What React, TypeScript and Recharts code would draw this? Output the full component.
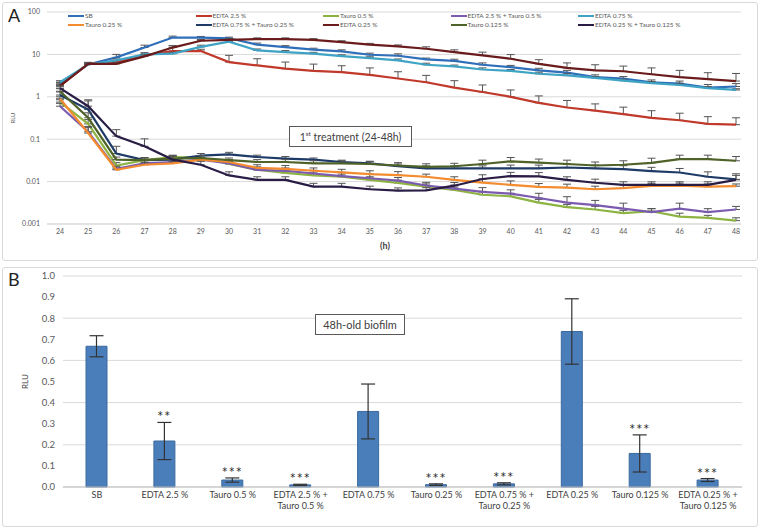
import {
  LineChart,
  Line,
  XAxis,
  YAxis,
  CartesianGrid,
  ErrorBar,
  ComposedChart,
  Bar,
  LabelList,
} from 'recharts';

const FONT = "Lato, 'Open Sans', sans-serif";

// Panel A: kinetics 24-48h (log RLU)
const hours = [24, 25, 26, 27, 28, 29, 30, 31, 32, 33, 34, 35, 36, 37, 38, 39, 40, 41, 42, 43, 44, 45, 46, 47, 48];

const sb = [2.0, 5.8, 8.5, 14.5, 25, 25, 24, 17, 14.8, 13, 11.8, 9.8, 9.3, 7.6, 7.0, 5.7, 5.0, 4.2, 3.7, 2.9, 2.7, 2.2, 2.05, 1.65, 1.75];
const sbErr = [0.2, 0.5, 1.5, 2, 2, 1.5, 1.5, 1.5, 1.3, 1.0, 1.0, 0.9, 1.0, 0.6, 0.7, 0.6, 0.5, 0.5, 0.5, 0.4, 0.3, 0.3, 0.3, 0.3, 0.3];
const edta25 = [1.8, 6.0, 6.6, 9.5, 12, 12, 6.6, 5.5, 4.6, 4.1, 3.8, 3.3, 2.7, 2.2, 1.65, 1.3, 1.0, 0.72, 0.56, 0.47, 0.39, 0.32, 0.28, 0.23, 0.22];
const edta25Err = [0.1, 0.3, 0.5, 0.8, 4, 1.2, 2.9, 2.4, 2.0, 1.8, 1.6, 1.5, 1.2, 1.0, 0.75, 0.6, 0.45, 0.33, 0.26, 0.21, 0.18, 0.15, 0.13, 0.11, 0.1];
const tauro05 = [0.75, 0.23, 0.024, 0.032, 0.038, 0.037, 0.026, 0.019, 0.016, 0.014, 0.013, 0.011, 0.0093, 0.0076, 0.0064, 0.0049, 0.0045, 0.0032, 0.0025, 0.0022, 0.0018, 0.002, 0.0015, 0.0014, 0.0012];
const tauro05Err = [0.1, 0.06, 0.004, 0.004, 0.004, 0.004, 0.003, 0.003, 0.003, 0.002, 0.002, 0.002, 0.0015, 0.0012, 0.001, 0.001, 0.0008, 0.0006, 0.0004, 0.0004, 0.0003, 0.0003, 0.0003, 0.0002, 0.0002];
const edta25Tauro05 = [0.6, 0.15, 0.02, 0.027, 0.029, 0.033, 0.027, 0.019, 0.018, 0.0155, 0.0135, 0.012, 0.0105, 0.0081, 0.0068, 0.0057, 0.0052, 0.0041, 0.0032, 0.0028, 0.0023, 0.0019, 0.0023, 0.0019, 0.0022];
const edta25Tauro05Err = [0.1, 0.05, 0.003, 0.004, 0.004, 0.004, 0.004, 0.003, 0.003, 0.003, 0.003, 0.003, 0.002, 0.0015, 0.0015, 0.0015, 0.0012, 0.0012, 0.0012, 0.0008, 0.0008, 0.0004, 0.0008, 0.0004, 0.0004];
const edta075 = [2.2, 5.8, 7.2, 10, 10.4, 15, 20, 12.4, 11.3, 10.4, 9.1, 8.2, 7.2, 5.7, 5.2, 4.4, 4.1, 3.5, 3.2, 2.8, 2.4, 2.1, 1.9, 1.6, 1.45];
const edta075Err = [0.2, 0.4, 0.6, 1, 0.8, 1.5, 2, 1, 1, 0.8, 0.7, 0.6, 0.6, 0.5, 0.4, 0.4, 0.3, 0.3, 0.3, 0.2, 0.2, 0.2, 0.2, 0.15, 0.1];
const tauro025 = [0.9, 0.14, 0.019, 0.025, 0.027, 0.033, 0.029, 0.021, 0.02, 0.018, 0.0165, 0.015, 0.0142, 0.013, 0.011, 0.0095, 0.0084, 0.0075, 0.0072, 0.0066, 0.007, 0.0079, 0.008, 0.0076, 0.0078];
const tauro025Err = [0.1, 0.05, 0.003, 0.003, 0.003, 0.004, 0.004, 0.004, 0.004, 0.003, 0.003, 0.003, 0.003, 0.002, 0.002, 0.002, 0.002, 0.0015, 0.0015, 0.0012, 0.0015, 0.0012, 0.0012, 0.0012, 0.001];
const edta075Tauro025 = [1.1, 0.5, 0.046, 0.032, 0.033, 0.041, 0.044, 0.038, 0.035, 0.033, 0.029, 0.027, 0.023, 0.0205, 0.0205, 0.0205, 0.0205, 0.0205, 0.0215, 0.0205, 0.0197, 0.0177, 0.0164, 0.013, 0.0113];
const edta075Tauro025Err = [0.2, 0.3, 0.022, 0.005, 0.006, 0.005, 0.005, 0.004, 0.004, 0.003, 0.003, 0.003, 0.003, 0.003, 0.003, 0.003, 0.004, 0.004, 0.004, 0.004, 0.004, 0.004, 0.004, 0.004, 0.004];
const edta025 = [1.8, 6.0, 6.0, 9.0, 14.5, 21, 22, 23, 23, 22, 19.5, 17, 15.5, 13.6, 11.3, 9.5, 7.9, 6.0, 4.8, 4.2, 4.0, 3.4, 2.9, 2.6, 2.35];
const edta025Err = [0.2, 0.5, 0.5, 0.8, 1.5, 1.5, 1.5, 1.5, 1.5, 1.5, 1.5, 1.2, 1.2, 1.5, 1.5, 1.8, 2.0, 1.5, 1.5, 1.5, 1.3, 1.4, 1.3, 1.1, 1.2];
const tauro0125 = [1.35, 0.32, 0.033, 0.032, 0.035, 0.036, 0.032, 0.029, 0.029, 0.027, 0.027, 0.026, 0.024, 0.0223, 0.023, 0.026, 0.03, 0.028, 0.026, 0.024, 0.025, 0.0276, 0.034, 0.034, 0.031];
const tauro0125Err = [0.2, 0.1, 0.005, 0.004, 0.005, 0.005, 0.004, 0.004, 0.004, 0.004, 0.004, 0.004, 0.004, 0.004, 0.004, 0.006, 0.007, 0.006, 0.006, 0.005, 0.006, 0.008, 0.008, 0.008, 0.008];
const edta025Tauro0125 = [1.6, 0.6, 0.118, 0.068, 0.033, 0.025, 0.014, 0.011, 0.011, 0.0076, 0.0076, 0.0066, 0.0061, 0.0062, 0.008, 0.0115, 0.0135, 0.0133, 0.011, 0.0094, 0.0084, 0.0084, 0.0084, 0.0084, 0.011];
const edta025Tauro0125Err = [0.2, 0.25, 0.05, 0.034, 0.008, 0.005, 0.003, 0.002, 0.002, 0.0015, 0.0015, 0.0012, 0.001, 0.001, 0.0015, 0.003, 0.003, 0.003, 0.002, 0.002, 0.0015, 0.0015, 0.0015, 0.0015, 0.003];

const logTicks = [0.001, 0.01, 0.1, 1, 10, 100];

const series = [
  { key: 'sb', name: 'SB', values: sb, errors: sbErr, color: '#2F6EB8' },
  { key: 'edta25', name: 'EDTA 2.5 %', values: edta25, errors: edta25Err, color: '#C0392B' },
  { key: 'tauro05', name: 'Tauro 0.5 %', values: tauro05, errors: tauro05Err, color: '#8DB443' },
  { key: 'edta25Tauro05', name: 'EDTA 2.5 % + Tauro 0.5 %', values: edta25Tauro05, errors: edta25Tauro05Err, color: '#7B5BAF' },
  { key: 'edta075', name: 'EDTA 0.75 %', values: edta075, errors: edta075Err, color: '#3EA3C4' },
  { key: 'tauro025', name: 'Tauro 0.25 %', values: tauro025, errors: tauro025Err, color: '#F48B2E' },
  { key: 'edta075Tauro025', name: 'EDTA 0.75 % + Tauro 0.25 %', values: edta075Tauro025, errors: edta075Tauro025Err, color: '#1E3A66' },
  { key: 'edta025', name: 'EDTA 0.25 %', values: edta025, errors: edta025Err, color: '#6A1B1B' },
  { key: 'tauro0125', name: 'Tauro 0.125 %', values: tauro0125, errors: tauro0125Err, color: '#4F6228' },
  { key: 'edta025Tauro0125', name: 'EDTA 0.25 % + Tauro 0.125 %', values: edta025Tauro0125, errors: edta025Tauro0125Err, color: '#2A1D45' },
];

const timeData = hours.map((h, i) => {
  const row: Record<string, any> = { h };
  series.forEach((s) => {
    row[s.key] = s.values[i];
    row[s.key + 'Err'] = [0, s.errors[i]];
  });
  return row;
});

// Panel B: 48h-old biofilm
const groups = [
  'SB',
  'EDTA 2.5 %',
  'Tauro 0.5 %',
  'EDTA 2.5 % +|Tauro 0.5 %',
  'EDTA 0.75 %',
  'Tauro 0.25 %',
  'EDTA 0.75 % +|Tauro 0.25 %',
  'EDTA 0.25 %',
  'Tauro 0.125 %',
  'EDTA 0.25 % +|Tauro 0.125 %',
];
const rlu = [0.667, 0.218, 0.033, 0.01, 0.358, 0.011, 0.015, 0.737, 0.159, 0.033];
const rluErr = [0.05, 0.088, 0.01, 0.003, 0.13, 0.004, 0.005, 0.155, 0.088, 0.007];
const stars = [undefined, '**', '***', '***', undefined, '***', '***', undefined, '***', '***'];
const linearTicks = [0, 0.1, 0.2, 0.3, 0.4, 0.5, 0.6, 0.7, 0.8, 0.9, 1.0];

const barData = groups.map((g, i) => ({
  group: g,
  rlu: rlu[i],
  err: rluErr[i],
  top: rlu[i] + rluErr[i],
  sig: stars[i],
}));

const GroupTick = ({ x, y, payload }: any) => {
  const lines = String(payload.value).split('|');
  return (
    <text x={x} y={y} textAnchor="middle" fill="#404040" fontSize={9} fontFamily={FONT}>
      {lines.map((l, i) => (
        <tspan key={i} x={x} dy={i === 0 ? 8 : 11}>
          {l}
        </tspan>
      ))}
    </text>
  );
};

const boxStyle: React.CSSProperties = {
  position: 'absolute',
  border: '1px solid #d9d9d9',
  borderRadius: 3,
  background: '#fff',
};

export default function App() {
  return (
    <div style={{ position: 'relative', width: 760, height: 529, background: '#fff', fontFamily: FONT }}>
      <style>{`body{margin:0}`}</style>

      {/* Panel A */}
      <div style={{ ...boxStyle, left: 2, top: 2, width: 754, height: 257 }} />
      <div style={{ position: 'absolute', left: 3, top: 3 }}>
        <LineChart width={754} height={257} data={timeData} margin={{ top: 9, right: 16, bottom: 0, left: 0 }}>
          <CartesianGrid vertical={false} stroke="#d9d9d9" />
          <XAxis
            dataKey="h"
            type="number"
            domain={[24, 48]}
            ticks={hours}
            interval={0}
            padding={{ left: 13, right: 5 }}
            height={36}
            tickLine={false}
            tickSize={0}
            tickMargin={5}
            axisLine={{ stroke: '#d9d9d9' }}
            tick={{ fontSize: 7, fill: '#595959', fontFamily: FONT }}
            label={{ value: '(h)', position: 'center', dx: -9, dy: 4, fontSize: 9, fontWeight: 700, fill: '#404040', fontFamily: FONT }}
          />
          <YAxis
            scale="log"
            domain={[0.001, 100]}
            ticks={logTicks}
            allowDataOverflow
            width={44}
            tickLine={false}
            axisLine={false}
            tickMargin={1}
            tickFormatter={(v) => String(v)}
            tick={{ fontSize: 7, fill: '#595959', fontFamily: FONT }}
            label={{ value: 'RLU', angle: -90, position: 'center', dx: -12, fontSize: 6, fill: '#595959', fontFamily: FONT }}
          />
          {series.map((s) => (
            <Line
              key={s.key}
              type="linear"
              dataKey={s.key}
              stroke={s.color}
              strokeWidth={2.2}
              dot={false}
              isAnimationActive={false}
            >
              <ErrorBar dataKey={s.key + 'Err'} width={4} stroke="#555" strokeWidth={1} direction="y" />
            </Line>
          ))}
        </LineChart>
      </div>

      {/* legend A */}
      <div
        style={{
          position: 'absolute',
          left: 68,
          top: 11,
          display: 'grid',
          gridTemplateColumns: 'repeat(5, 127.5px)',
          gridAutoRows: '9px',
          fontSize: 6.5,
          color: '#595959',
        }}
      >
        {series.map((s) => (
          <div key={s.key} style={{ display: 'flex', alignItems: 'center', whiteSpace: 'nowrap' }}>
            <span style={{ display: 'inline-block', width: 16, height: 2, background: s.color, marginRight: 1 }} />
            {s.name}
          </div>
        ))}
      </div>

      <div style={{ position: 'absolute', left: 8, top: 4, fontSize: 18, color: '#222' }}>A</div>
      <div
        style={{
          position: 'absolute',
          left: 289,
          top: 126,
          width: 121,
          height: 19,
          border: '1px solid #595959',
          background: '#fff',
          fontSize: 10.5,
          color: '#404040',
          display: 'flex',
          alignItems: 'center',
          justifyContent: 'center',
          whiteSpace: 'nowrap',
        }}
      >
        <span>
          1<sup style={{ fontSize: 6.5 }}>st</sup> treatment (24-48h)
        </span>
      </div>

      {/* Panel B */}
      <div style={{ ...boxStyle, left: 2, top: 267, width: 754, height: 258 }} />
      <div style={{ position: 'absolute', left: 3, top: 268 }}>
        <ComposedChart width={754} height={258} data={barData} margin={{ top: 8, right: 15, bottom: 3, left: 0 }} barSize={21}>
          <CartesianGrid vertical={false} stroke="#d9d9d9" />
          <XAxis
            dataKey="group"
            interval={0}
            height={36}
            tickLine={false}
            tickSize={0}
            tickMargin={3}
            axisLine={{ stroke: '#bfbfbf' }}
            tick={<GroupTick />}
          />
          <YAxis
            domain={[0, 1]}
            ticks={linearTicks}
            width={60}
            tickLine={false}
            axisLine={false}
            tickMargin={2}
            tickFormatter={(v) => v.toFixed(1)}
            tick={{ fontSize: 9.5, fill: '#595959', fontFamily: FONT }}
            label={{ value: 'RLU', angle: -90, position: 'center', dx: -8, fontSize: 8, fill: '#404040', fontFamily: FONT }}
          />
          <Bar dataKey="rlu" fill="#4A7EBB" stroke="#3A6A9F" strokeWidth={1} isAnimationActive={false}>
            <ErrorBar dataKey="err" width={7} stroke="#333" strokeWidth={1.2} direction="y" />
          </Bar>
          <Line dataKey="top" stroke="none" dot={false} activeDot={false} isAnimationActive={false}>
            <LabelList
              dataKey="sig"
              position="top"
              offset={3}
              style={{ fontSize: 10, fill: '#222', letterSpacing: 2, fontFamily: "'DejaVu Sans', sans-serif" }}
            />
          </Line>
        </ComposedChart>
      </div>

      <div style={{ position: 'absolute', left: 8, top: 268, fontSize: 18, color: '#222' }}>B</div>
      <div
        style={{
          position: 'absolute',
          left: 315,
          top: 314,
          width: 88,
          height: 19,
          border: '1px solid #595959',
          background: '#fff',
          fontSize: 11,
          color: '#404040',
          display: 'flex',
          alignItems: 'center',
          justifyContent: 'center',
          whiteSpace: 'nowrap',
        }}
      >
        48h-old biofilm
      </div>
    </div>
  );
}
